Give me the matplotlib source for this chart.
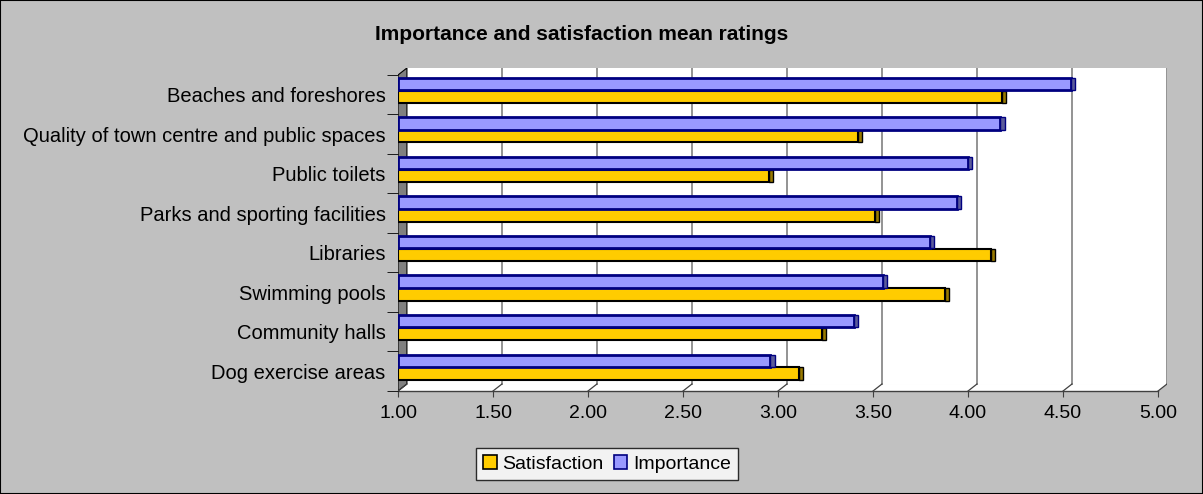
import numpy as np
import matplotlib
matplotlib.use("Agg")
import matplotlib.pyplot as plt
from matplotlib.patches import Polygon, Rectangle, Patch

plt.rcParams["font.family"] = ["Liberation Sans", "DejaVu Sans"]

# data (top to bottom)
categories = ["Beaches and foreshores", "Quality of town centre and public spaces",
              "Public toilets", "Parks and sporting facilities", "Libraries",
              "Swimming pools", "Community halls", "Dog exercise areas"]
importance = [4.54, 4.17, 4.00, 3.94, 3.80, 3.55, 3.40, 2.96]
satisfaction = [4.18, 3.42, 2.95, 3.51, 4.12, 3.88, 3.23, 3.11]
xticks = [1.0, 1.5, 2.0, 2.5, 3.0, 3.5, 4.0, 4.5, 5.0]

BG = "#c0c0c0"
C_IMP, E_IMP, S_IMP = "#9999ff", "#000080", "#5c5c99"
C_SAT, E_SAT, S_SAT = "#ffcc00", "#000000", "#997a00"
DX, DY = 0.047, 0.177   # fake 3d depth in data units
XMIN, XMAX = 1.0, 5.0

W, H = 1203, 494
fig = plt.figure(figsize=(W / 100, H / 100), dpi=100, facecolor=BG)
ax = fig.add_axes([398 / W, (H - 391) / H, (1167 - 398) / W, (391 - 68) / H])
ax.set_facecolor("none")
n = len(categories)
y = np.arange(n)
ax.set_xlim(XMIN, XMAX + DX)
ax.set_ylim(n - 0.5, -0.5 - DY)

# back wall, floor, side wall
ax.add_patch(Rectangle((XMIN + DX, -0.5 - DY), XMAX - XMIN, n, facecolor="white",
                       edgecolor="none", zorder=0))
ax.add_patch(Polygon([(XMIN, n - 0.5), (XMAX, n - 0.5), (XMAX + DX, n - 0.5 - DY),
                      (XMIN + DX, n - 0.5 - DY)], closed=True, facecolor="white",
                     edgecolor="none", zorder=0))
ax.add_patch(Polygon([(XMIN, -0.5), (XMIN + DX, -0.5 - DY), (XMIN + DX, n - 0.5 - DY),
                      (XMIN, n - 0.5)], closed=True, facecolor="#808080",
                     edgecolor="black", lw=0.8, zorder=1))
for v in xticks[1:]:
    ax.plot([v + DX, v + DX], [n - 0.5 - DY, -0.5 - DY], color="#808080", lw=1.2, zorder=1)
for v in xticks:
    ax.plot([v, v + DX], [n - 0.5, n - 0.5 - DY], color="#404040", lw=0.9, zorder=1)
ax.plot([XMIN, XMAX], [n - 0.5, n - 0.5], color="#404040", lw=1.0, zorder=1, clip_on=False)

# bars
h = 0.316
yi = y - 0.266
ys = y + 0.051
ax.barh(yi, np.array(importance) - XMIN, left=XMIN, height=h, color=C_IMP,
        edgecolor=E_IMP, lw=2.0, zorder=3)
ax.barh(ys, np.array(satisfaction) - XMIN, left=XMIN, height=h, color=C_SAT,
        edgecolor=E_SAT, lw=1.5, zorder=2)
ax.barh(yi, 0.022, left=importance, height=h, color=S_IMP, edgecolor=E_IMP, lw=1.0, zorder=3)
ax.barh(ys, 0.022, left=satisfaction, height=h, color=S_SAT, edgecolor=E_SAT, lw=1.0, zorder=2)

for s in ax.spines.values():
    s.set_visible(False)
ax.set_xticks(xticks)
ax.set_xticklabels([f"{v:.2f}" for v in xticks], fontsize=14)
ax.tick_params(axis="x", length=4, color="#404040", pad=6)
ax.set_yticks(y)
ax.set_yticklabels(categories, fontsize=14.5)
ax.set_yticks(np.arange(-0.5, n, 1.0), minor=True)
ax.tick_params(axis="y", which="major", length=0, pad=9)
ax.tick_params(axis="y", which="minor", length=8, color="black", direction="out")

fig.text(582 / W, 1 - 34 / H, "Importance and satisfaction mean ratings",
         ha="center", va="center", fontsize=15, fontweight="bold")

handles = [Patch(facecolor=C_SAT, edgecolor=E_SAT, lw=1.2, label="Satisfaction"),
           Patch(facecolor=C_IMP, edgecolor=E_IMP, lw=1.2, label="Importance")]
leg = fig.legend(handles=handles, loc="center", bbox_to_anchor=(607 / W, 30 / H), ncol=2,
                 fontsize=14, frameon=True, fancybox=False, handlelength=0.7,
                 handleheight=0.7, handletextpad=0.3, columnspacing=0.5,
                 borderpad=0.35)
leg.get_frame().set_edgecolor("black")
leg.get_frame().set_linewidth(1.0)

fig.patches.append(Rectangle((0, 0), 1, 1, transform=fig.transFigure, fill=False,
                             edgecolor="black", lw=1.5))
fig.savefig("out.png", dpi=100, facecolor=BG)
